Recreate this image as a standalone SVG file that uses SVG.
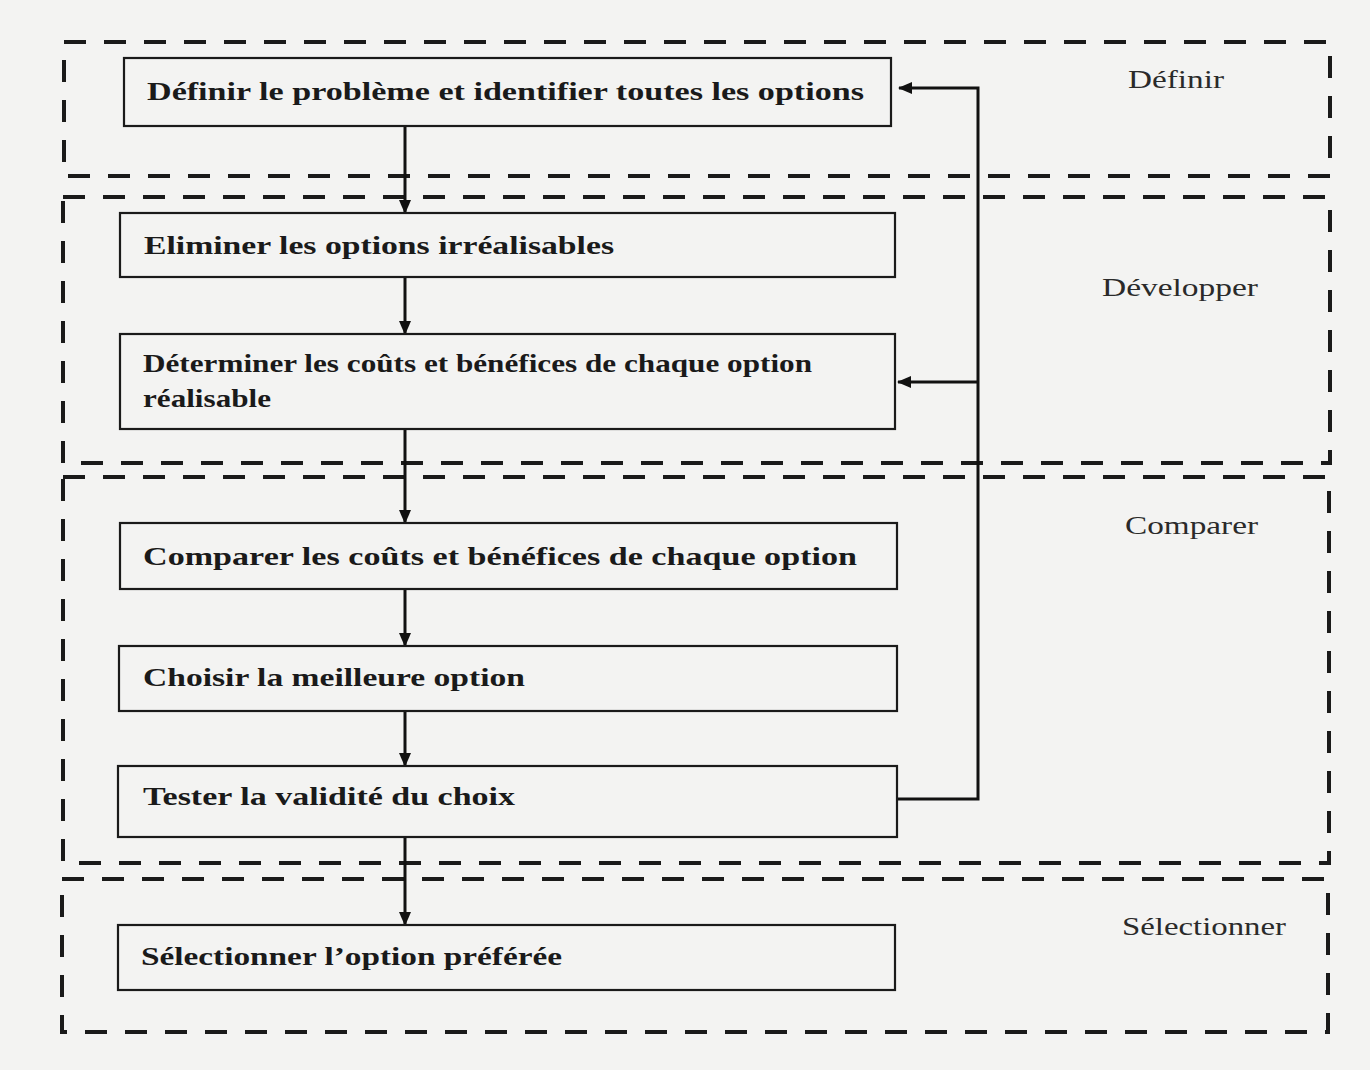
<svg xmlns="http://www.w3.org/2000/svg" width="1370" height="1070" viewBox="0 0 1370 1070">
<style>
.bg{fill:#f3f3f2}
.zone{fill:none;stroke:#1a1a1a;stroke-width:4;stroke-dasharray:22 18}
.box{fill:none;stroke:#1a1a1a;stroke-width:2.2}
.t{font-family:"Liberation Serif","Times New Roman",serif;font-weight:bold;font-size:26px;fill:#1a1a1a}
.lbl{font-family:"Liberation Serif","Times New Roman",serif;font-size:25px;fill:#2a2a2a}
.c{fill:none;stroke:#111;stroke-width:3}
</style>
<defs>
<marker id="ah" viewBox="0 0 14 12" refX="13" refY="6" markerWidth="14" markerHeight="12" markerUnits="userSpaceOnUse" orient="auto">
<path d="M0,0 L14,6 L0,12 Z" fill="#111"/>
</marker>
</defs>
<rect class="bg" x="0" y="0" width="1370" height="1070"/>
<g id="zones">
<rect id="zone-definir" class="zone" x="64" y="42" width="1266" height="134"/>
<rect id="zone-developper" class="zone" x="63" y="197" width="1267" height="266"/>
<rect id="zone-comparer" class="zone" x="63" y="477" width="1266" height="386"/>
<rect id="zone-selectionner" class="zone" x="62" y="879" width="1266" height="153"/>
<text class="lbl" x="1128" y="88" textLength="96" lengthAdjust="spacingAndGlyphs">Définir</text>
<text class="lbl" x="1102" y="296" textLength="156" lengthAdjust="spacingAndGlyphs">Développer</text>
<text class="lbl" x="1125" y="534" textLength="133" lengthAdjust="spacingAndGlyphs">Comparer</text>
<text class="lbl" x="1122" y="935" textLength="164" lengthAdjust="spacingAndGlyphs">Sélectionner</text>
</g>
<g id="connectors">
<line class="c" x1="405" y1="126" x2="405" y2="213" marker-end="url(#ah)"/>
<line class="c" x1="405" y1="277" x2="405" y2="334" marker-end="url(#ah)"/>
<line class="c" x1="405" y1="429" x2="405" y2="523" marker-end="url(#ah)"/>
<line class="c" x1="405" y1="589" x2="405" y2="646" marker-end="url(#ah)"/>
<line class="c" x1="405" y1="711" x2="405" y2="766" marker-end="url(#ah)"/>
<line class="c" x1="405" y1="837" x2="405" y2="925" marker-end="url(#ah)"/>
<polyline class="c" points="897,799 978,799 978,88 899,88" marker-end="url(#ah)"/>
<line class="c" x1="978" y1="382" x2="898" y2="382" marker-end="url(#ah)"/>
</g>
<g id="n1">
<rect class="box" x="124" y="58" width="767" height="68"/>
<text class="t" x="147" y="100" textLength="717" lengthAdjust="spacingAndGlyphs">Définir le problème et identifier toutes les options</text>
</g>
<g id="n2">
<rect class="box" x="120" y="213" width="775" height="64"/>
<text class="t" x="144" y="254" textLength="470" lengthAdjust="spacingAndGlyphs">Eliminer les options irréalisables</text>
</g>
<g id="n3">
<rect class="box" x="120" y="334" width="775" height="95"/>
<text class="t" x="143" y="372" textLength="669" lengthAdjust="spacingAndGlyphs">Déterminer les coûts et bénéfices de chaque option</text>
<text class="t" x="143" y="407" textLength="128" lengthAdjust="spacingAndGlyphs">réalisable</text>
</g>
<g id="n4">
<rect class="box" x="120" y="523" width="777" height="66"/>
<text class="t" x="143" y="565" textLength="714" lengthAdjust="spacingAndGlyphs">Comparer les coûts et bénéfices de chaque option</text>
</g>
<g id="n5">
<rect class="box" x="119" y="646" width="778" height="65"/>
<text class="t" x="143" y="686" textLength="382" lengthAdjust="spacingAndGlyphs">Choisir la meilleure option</text>
</g>
<g id="n6">
<rect class="box" x="118" y="766" width="779" height="71"/>
<text class="t" x="143" y="805" textLength="372" lengthAdjust="spacingAndGlyphs">Tester la validité du choix</text>
</g>
<g id="n7">
<rect class="box" x="118" y="925" width="777" height="65"/>
<text class="t" x="141" y="965" textLength="421" lengthAdjust="spacingAndGlyphs">Sélectionner l’option préférée</text>
</g>
</svg>
